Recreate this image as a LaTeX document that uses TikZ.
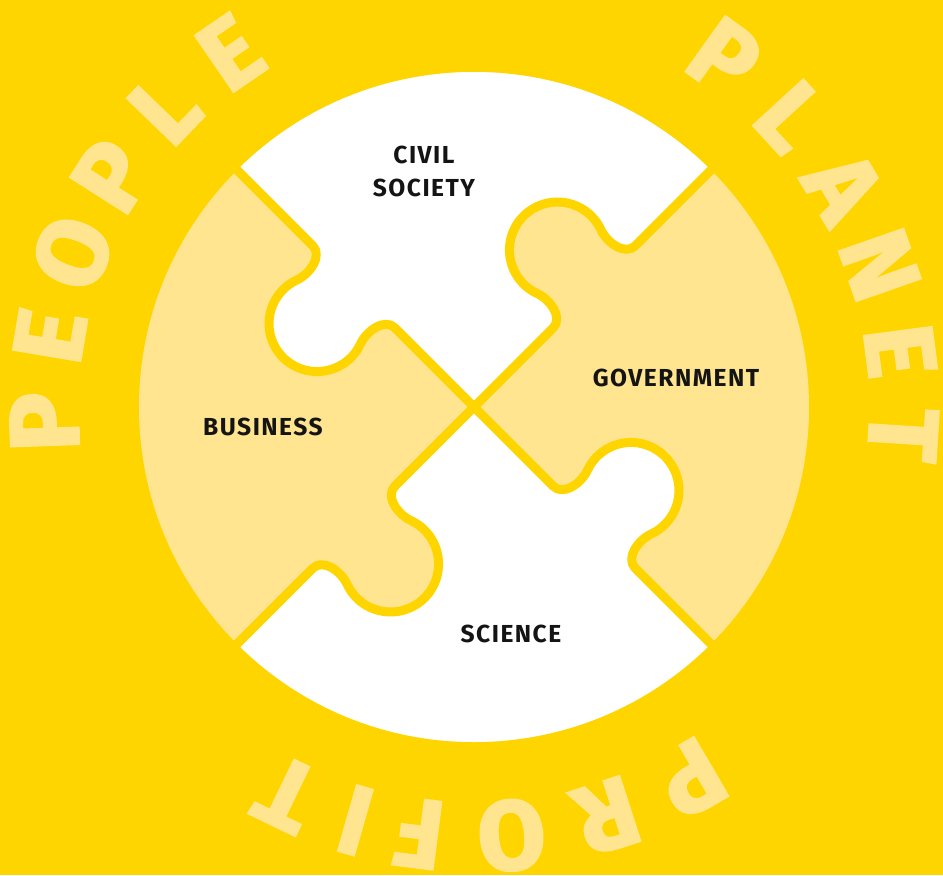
\documentclass[tikz,border=0pt]{standalone}
\usepackage{fontspec}
\setmainfont{Fira Sans}
\newfontfamily\labelfont{Fira Sans}[LetterSpace=6.0]
\newfontfamily\ringfont{Fira Sans}[BoldFeatures={FakeBold=2.5}]
\usepackage{tikz}
\pgfdeclarelayer{bg}
\pgfsetlayers{bg,main}

\definecolor{bgyellow}{HTML}{FFD500}
\definecolor{pale}{HTML}{FFE58F}
\definecolor{ink}{HTML}{141414}

% one seam of the puzzle, centre to rim, turned by #1
\newcommand{\armout}[1]{%
  -- ([rotate=#1]112,0)
  .. controls ([rotate=#1]126,0) and ([rotate=#1]130,22) .. ([rotate=#1]124.9,35.6)
  arc[start angle=#1+200, end angle=#1-20, radius=48]
  .. controls ([rotate=#1]210,22) and ([rotate=#1]214,0) .. ([rotate=#1]228,0)
  -- ([rotate=#1]335,0)}
% the same seam, rim back to centre
\newcommand{\armin}[1]{%
  -- ([rotate=#1]228,0)
  .. controls ([rotate=#1]214,0) and ([rotate=#1]210,22) .. ([rotate=#1]215.1,35.6)
  arc[start angle=#1-20, end angle=#1+200, radius=48]
  .. controls ([rotate=#1]130,22) and ([rotate=#1]126,0) .. ([rotate=#1]112,0)
  -- (0,0)}

\tikzset{
  seam/.style={draw=bgyellow, line width=4.5pt, line join=round},
  ring/.style={text=pale, inner sep=0pt, font=\fontsize{49}{49}\selectfont\ringfont\bfseries},
  piece/.style={text=ink, inner sep=0pt, align=center,
    font=\fontsize{12.3}{16.5}\selectfont\labelfont\bfseries}
}

\begin{document}
\begin{tikzpicture}[x=0.5pt, y=0.5pt]
    \useasboundingbox (-474,-468) rectangle (469,407);
    \coordinate (c) at (0,0);

    \begin{pgfonlayer}{bg}
        \fill[bgyellow] (-474,-468) rectangle (469,407);
        \fill[pale] (c) circle[radius=335];
        \fill[white] (c) \armout{45} arc[start angle=45, end angle=135, radius=335] \armin{135} -- cycle;
        \fill[white] (c) \armout{225} arc[start angle=225, end angle=315, radius=335] \armin{315} -- cycle;
    \end{pgfonlayer}

    \draw[seam] (c) \armout{45} -- ([rotate=45]345,0);
    \draw[seam] (c) \armout{135} -- ([rotate=135]345,0);
    \draw[seam] (c) \armout{225} -- ([rotate=225]345,0);
    \draw[seam] (c) \armout{315} -- ([rotate=315]345,0);

    \node (civil) [piece] at (-50,236) {CIVIL\\SOCIETY};
    \node (gov) [piece] at (202,29) {GOVERNMENT};
    \node (bus) [piece] at (-211,-20) {BUSINESS};
    \node (sci) [piece] at (37,-227) {SCIENCE};

    % PEOPLE
    \node (pe1) [ring, rotate=92] at (182:430) {P};
    \node (pe2) [ring, rotate=80.5] at (170.5:430) {E};
    \node (pe3) [ring, rotate=69] at (159:430) {O};
    \node (pe4) [ring, rotate=57.5] at (147.5:430) {P};
    \node (pe5) [ring, rotate=46] at (136:430) {L};
    \node (pe6) [ring, rotate=34.5] at (124.5:430) {E};
    % PLANET
    \node (pl1) [ring, rotate=-35.6] at (54.4:430) {P};
    \node (pl2) [ring, rotate=-47.5] at (42.5:430) {L};
    \node (pl3) [ring, rotate=-59.2] at (30.8:430) {A};
    \node (pl4) [ring, rotate=-70.7] at (19.3:430) {N};
    \node (pl5) [ring, rotate=-82.5] at (7.5:430) {E};
    \node (pl6) [ring, rotate=-93.7] at (-3.7:430) {T};
    % PROFIT
    \node (pr1) [ring, rotate=-149.7] at (-59.7:430) {P};
    \node (pr2) [ring, rotate=-162] at (-72:430) {R};
    \node (pr3) [ring, rotate=-175] at (-85:430) {O};
    \node (pr4) [ring, rotate=-187.3] at (-97.3:430) {F};
    \node (pr5) [ring, rotate=-196] at (-106:430) {I};
    \node (pr6) [ring, rotate=-205.8] at (-115.8:430) {T};
\end{tikzpicture}
\end{document}
